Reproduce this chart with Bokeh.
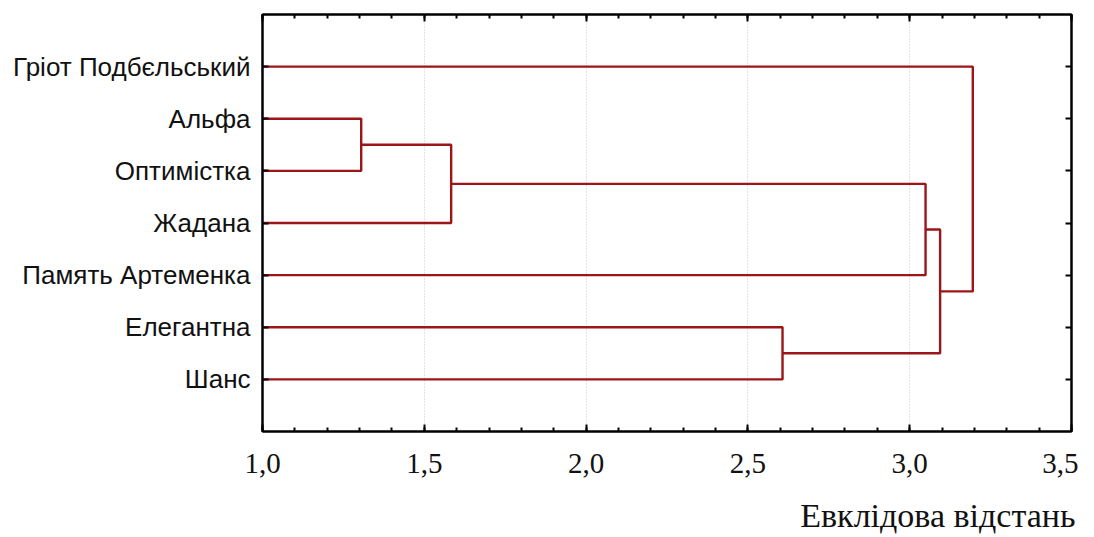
from bokeh.plotting import figure
from bokeh.models import Range1d, FixedTicker, Title, LinearAxis
from bokeh.embed import file_html
from bokeh.resources import INLINE

labels = ["Гріот Подбєльський", "Альфа", "Оптимістка", "Жадана",
          "Память Артеменка", "Елегантна", "Шанс"]
# merges: (child a, child b, linkage distance); leaves 0..6, new clusters 7..
merge_a = [1, 7, 8, 5, 9, 0]
merge_b = [2, 3, 4, 6, 10, 11]
merge_h = [1.305, 1.583, 3.049, 2.607, 3.094, 3.195]
x_ticks = [1.0, 1.5, 2.0, 2.5, 3.0, 3.5]
x_tick_labels = ["1,0", "1,5", "2,0", "2,5", "3,0", "3,5"]
x_min, x_max = 1.0, 3.5

LINE = "#9c1519"

p = figure(width=1078, height=536, output_backend="svg", toolbar_location=None,
           x_range=Range1d(x_min, x_max), y_range=Range1d(len(labels) + 1, 0),
           min_border_left=262, min_border_top=14, min_border_right=7, min_border_bottom=60)
p.frame_width = 809
p.frame_height = 417

# node positions
ys = {i: i + 1 for i in range(len(labels))}
xs = {i: x_min for i in range(len(labels))}
mx, my = [], []
for k, (a, b, h) in enumerate(zip(merge_a, merge_b, merge_h)):
    node = len(labels) + k
    mx.append([xs[a], h, h, xs[b]])
    my.append([ys[a], ys[a], ys[b], ys[b]])
    xs[node] = h
    ys[node] = (ys[a] + ys[b]) / 2
p.multi_line(mx, my, line_color=LINE, line_width=2.4)

# grid
p.ygrid.visible = False
p.xgrid.ticker = FixedTicker(ticks=x_ticks)
p.xgrid.grid_line_color = "#c8c8c8"
p.xgrid.grid_line_dash = "1 2"
p.xgrid.grid_line_width = 1

p.outline_line_color = "black"
p.outline_line_width = 2

minor = [1 + 0.1 * i for i in range(26)]

# x axis
xa = p.xaxis[0]
xa.ticker = FixedTicker(ticks=x_ticks, minor_ticks=minor)
xa.major_label_overrides = {t: l for t, l in zip(x_ticks, x_tick_labels)}
xa.major_label_text_font = "Liberation Serif"
xa.major_label_text_font_size = "29px"
xa.major_label_text_color = "#111111"
xa.major_label_standoff = 22
xa.major_tick_in = 7
xa.major_tick_out = 0
xa.minor_tick_in = 4
xa.minor_tick_out = 0
xa.axis_line_width = 2
xa.major_tick_line_width = 2
xa.minor_tick_line_width = 2

# top axis (ticks only)
ta = LinearAxis(ticker=FixedTicker(ticks=x_ticks, minor_ticks=minor),
                major_label_overrides={t: "" for t in x_ticks},
                major_tick_in=7, major_tick_out=0,
                minor_tick_in=4, minor_tick_out=0, axis_line_width=2,
                major_tick_line_width=2, minor_tick_line_width=2, major_label_standoff=0)
p.add_layout(ta, "above")

# y axis
ya = p.yaxis[0]
row_ticks = list(range(1, len(labels) + 1))
ya.ticker = FixedTicker(ticks=row_ticks)
ya.major_label_overrides = {i + 1: l for i, l in enumerate(labels)}
ya.major_label_text_font = "Liberation Sans"
ya.major_label_text_font_size = "26px"
ya.major_label_text_color = "#111111"
ya.major_label_standoff = 12
ya.major_tick_in = 6
ya.major_tick_out = 0
ya.minor_tick_line_color = None
ya.axis_line_width = 2
ya.major_tick_line_width = 2

ra = LinearAxis(ticker=FixedTicker(ticks=row_ticks),
                major_label_overrides={t: "" for t in row_ticks},
                major_tick_in=6, major_tick_out=0, minor_tick_line_color=None,
                axis_line_width=2, major_tick_line_width=2, major_label_standoff=0)
p.add_layout(ra, "right")

title = Title(text="Евклідова відстань", align="right", text_font="Liberation Serif",
              text_font_size="34px", text_font_style="normal", text_color="#111111",
              standoff=38, offset=-4)
p.add_layout(title, "below")

open("out.html", "w").write(file_html(p, INLINE))
